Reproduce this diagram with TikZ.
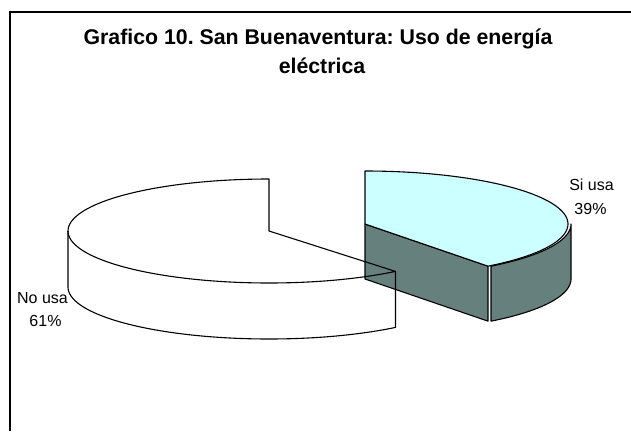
\documentclass[tikz,border=0pt]{standalone}
\usepackage{fontspec}
\setmainfont{Liberation Sans}
\frenchspacing
\definecolor{topcyan}{RGB}{204,255,255}
\definecolor{sidedark}{RGB}{102,128,126}
\tikzset{
  rim/.style={draw=black, line width=1.1pt, line join=round},
  lbl/.style={font=\fontsize{16}{24}\selectfont, anchor=base, inner sep=0pt},
  ttl/.style={font=\fontsize{21.3}{28}\bfseries\selectfont, anchor=base, inner sep=0pt},
}
\begin{document}
\begin{tikzpicture}[x=1pt,y=-1pt]
\useasboundingbox (0,0) rectangle (631,431);
% frame (left and top edges visible)
\draw[line width=1.4pt] (10,431) -- (10,12) -- (631,12);
% title
\node[ttl] (title1) at (318,44.5) {Grafico 10. San Buenaventura: Uso de energía};
\node[ttl] (title2) at (322,73) {eléctrica};
% ---- Si usa slice (exploded) : center (365,224), a=203, b=53, depth 55
\def\sa{203}\def\sb{53}\def\sd{55}
% radial face
\filldraw[rim, fill=sidedark] (365,224) -- ({365+\sa*cos(-52.7)},{224-\sb*sin(-52.7)})
  -- ({365+\sa*cos(-52.7)},{224+\sd-\sb*sin(-52.7)}) -- (365,{224+\sd}) -- cycle;
% curved outer side
\filldraw[rim, fill=sidedark]
  plot[domain=-52.7:0, samples=40] ({368+\sa*cos(\x)},{224-\sb*sin(\x)})
  -- plot[domain=0:-52.7, samples=40] ({368+\sa*cos(\x)},{224+\sd-\sb*sin(\x)}) -- cycle;
% top face
\filldraw[rim, fill=topcyan] (365,224) -- (365,{224-\sb})
  -- plot[domain=90:-52.7, samples=80] ({365+\sa*cos(\x)},{224-\sb*sin(\x)}) -- cycle;
% ---- No usa slice (outline only): center (269,231), a=201, b=52, depth 56
\def\na{201}\def\nb{52}\def\nd{56}
\draw[rim] (269,231) -- (269,{231-\nb})
  -- plot[domain=90:309, samples=120] ({269+\na*cos(\x)},{231-\nb*sin(\x)}) -- cycle;
\draw[rim] ({269-\na},231) -- ({269-\na},{231+\nd})
  -- plot[domain=180:309, samples=80] ({269+\na*cos(\x)},{231+\nd-\nb*sin(\x)})
  -- ({269+\na*cos(309)},{231-\nb*sin(309)});
% labels
\node[lbl] (si1) at (591.5,190) {Si usa};
\node[lbl] (si2) at (590.5,214) {39\%};
\node[lbl] (no1) at (42.5,303) {No usa};
\node[lbl] (no2) at (45.5,326.5) {61\%};
\end{tikzpicture}
\end{document}
